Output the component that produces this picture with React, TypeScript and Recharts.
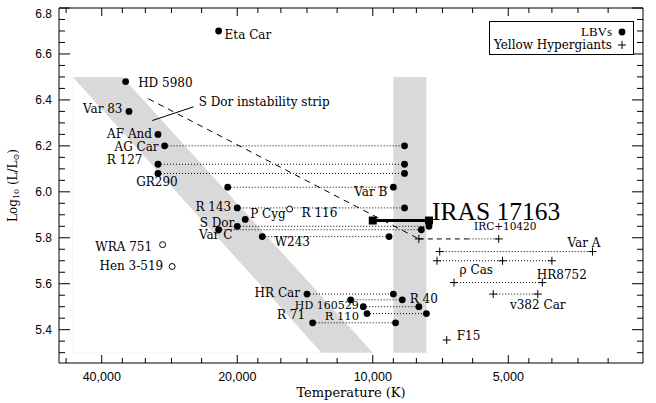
import React from 'react';
import { ComposedChart, XAxis, YAxis, Area, Line, Scatter } from 'recharts';

// LBVs: quiescent (hot) and eruption (cool) temperature at a given log L
const lbvNames = ['Eta Car', 'HD 5980', 'Var 83', 'AF And', 'AG Car', 'R 127', 'GR290', 'Var B', 'R 143', 'P Cyg', 'S Dor', 'Var C', 'W243', 'HR Car', 'R 40', 'HD 160529', 'R 110', 'R 71'];
const lbvLogL = [6.7, 6.48, 6.35, 6.25, 6.2, 6.12, 6.08, 6.02, 5.93, 5.88, 5.85, 5.835, 5.805, 5.555, 5.53, 5.5, 5.47, 5.43];
const lbvHotT = [22000, 35400, 34800, 30000, 29000, 30000, 30000, 21000, 20000, 19200, 20000, 22000, 17600, 14000, 11200, 10500, 10300, 13600];
const lbvCoolT: (number | null)[] = [null, null, null, null, 8500, 8500, 8500, 9000, 8500, null, 7500, 7800, 9200, 9000, 8600, 7900, 7600, 8900];

// candidate LBVs (open circles)
const candNames = ['R 116', 'WRA 751', 'Hen 3-519'];
const candLogL = [5.925, 5.77, 5.675];
const candT = [15300, 29300, 27900];

// yellow hypergiants
const yhgNames = ['IRC+10420', 'Var A', 'ρ Cas', 'HR8752', 'v382 Car', 'F15'];
const yhgLogL = [5.795, 5.74, 5.7, 5.605, 5.555, 5.355];
const yhgT = [[7900, 5250], [7100, 3250], [7200, 5150, 4000], [6600, 4200], [5400, 4300], [6850]];
const ircBreakT = 6100; // IRC+10420: dashed down to here, dotted after

// IRAS 17163
const irasName = 'IRAS 17163';
const irasT = [10000, 7500];
const irasLogL = 5.875;

// dashed track and the pointer to the strip
const trackT = [31500, 7900];
const trackLogL = [6.405, 5.795];
const noteText = 'S Dor instability strip';
const noteT = [30900, 25000];
const noteLogL = [6.31, 6.37];

// shaded regions
const stripCornerT = [46400, 36000, 13000, 10000]; // top-left, top-right, bottom-left, bottom-right
const stripLogL = [6.5, 5.3];
const bandT = [9000, 7600];

// axes
const xDomain = [2510, 49776];
const yDomain = [5.255, 6.8];
const xMajor = [40000, 20000, 10000, 5000];
const xMinor = [48000, 36000, 32000, 28000, 24000, 18000, 16000, 14000, 12000, 9000, 8000, 7000, 6000, 4500, 4000, 3500, 3000];
const yMajor = [5.4, 5.6, 5.8, 6.0, 6.2, 6.4, 6.6, 6.8];
const yMinor = [5.3, 5.35, 5.45, 5.5, 5.55, 5.65, 5.7, 5.75, 5.85, 5.9, 5.95, 6.05, 6.1, 6.15, 6.25, 6.3, 6.35, 6.45, 6.5, 6.55, 6.65, 6.7, 6.75];

const serif = '"DejaVu Serif", serif';
const times = '"Liberation Serif", "Times New Roman", serif';
const sans = '"Liberation Sans", Arial, sans-serif';
const gray = '#d9d9d9';

type LabelStyle = { dx: number; dy: number; anchor: 'start' | 'middle' | 'end'; size?: number; font?: string };
const labelStyle: Record<string, LabelStyle> = {
  'Eta Car': { dx: 6, dy: 4, anchor: 'start' },
  'HD 5980': { dx: 12.5, dy: 1.5, anchor: 'start' },
  'Var 83': { dx: -6.5, dy: -2.5, anchor: 'end' },
  'AF And': { dx: -6, dy: -0.5, anchor: 'end' },
  'AG Car': { dx: -6, dy: 1, anchor: 'end' },
  'R 127': { dx: -15.5, dy: -4.5, anchor: 'end' },
  GR290: { dx: -1, dy: 9, anchor: 'middle' },
  'Var B': { dx: -6, dy: 5, anchor: 'end' },
  'R 143': { dx: -6, dy: -1, anchor: 'end' },
  'P Cyg': { dx: 5, dy: -5, anchor: 'start' },
  'S Dor': { dx: -3, dy: -3.5, anchor: 'end' },
  'Var C': { dx: -3, dy: 5.5, anchor: 'middle' },
  W243: { dx: 12.5, dy: 5.5, anchor: 'start' },
  'HR Car': { dx: -7, dy: -1.5, anchor: 'end' },
  'R 40': { dx: 7.5, dy: -1, anchor: 'start' },
  'HD 160529': { dx: -4.5, dy: -1.5, anchor: 'end', size: 11 },
  'R 110': { dx: -8, dy: 2.5, anchor: 'end', size: 11.5 },
  'R 71': { dx: -7.5, dy: -7.5, anchor: 'end' },
  'R 116': { dx: 12, dy: 3.5, anchor: 'start' },
  'WRA 751': { dx: -10.5, dy: 2.5, anchor: 'end' },
  'Hen 3-519': { dx: -9, dy: 0, anchor: 'end' },
  'IRC+10420': { dx: 6.5, dy: -12.5, anchor: 'middle', size: 10.5 },
  'Var A': { dx: 8, dy: -9, anchor: 'end' },
  'ρ Cas': { dx: -9.5, dy: 9, anchor: 'end' },
  HR8752: { dx: -5.5, dy: -7.5, anchor: 'start' },
  'v382 Car': { dx: 0, dy: 11, anchor: 'middle' },
  F15: { dx: 10, dy: -4, anchor: 'start' },
  'IRAS 17163': { dx: 3, dy: -9.5, anchor: 'start', size: 25.5, font: times },
  'S Dor instability strip': { dx: 5, dy: -4.5, anchor: 'start' },
};

// shaded S Dor strip (gray area with a white notch) and the vertical band
const shadeRows = [
  { T: stripCornerT[0], strip: stripLogL[0], notch: stripLogL[0] },
  { T: stripCornerT[1], strip: stripLogL[0] },
  { T: stripCornerT[2], notch: stripLogL[1] },
  { T: stripCornerT[3], strip: stripLogL[1] },
  { T: bandT[0], band: stripLogL[0] },
  { T: bandT[1], band: stripLogL[0] },
];

const lbvHot = lbvNames.map((name, i) => ({ name, T: lbvHotT[i], L: lbvLogL[i] }));
const lbvCool = lbvNames
  .map((name, i) => ({ name, T: lbvCoolT[i], L: lbvLogL[i] }))
  .filter((d) => d.T != null);
const cands = candNames.map((name, i) => ({ name, T: candT[i], L: candLogL[i] }));
const yhgPoints = yhgNames.flatMap((name, i) => yhgT[i].map((T) => ({ name, T, L: yhgLogL[i] })));
const irasPoints = irasT.map((T) => ({ T, L: irasLogL }));

const labelAnchors = [
  ...lbvNames.map((name, i) => ({
    name,
    T: name === 'Var B' || name === 'R 40' ? (lbvCoolT[i] as number) : lbvHotT[i],
    L: lbvLogL[i],
  })),
  ...cands,
  ...yhgNames.map((name, i) => ({
    name,
    T: name === 'ρ Cas' ? yhgT[i][1] : yhgT[i][yhgT[i].length - 1],
    L: yhgLogL[i],
  })),
  { name: irasName, T: irasT[1], L: irasLogL },
  { name: noteText, T: noteT[1], L: noteLogL[1] },
];

const ax = { xAxisId: 'bottom', yAxisId: 'left' };
const axisStroke = { stroke: '#000', strokeWidth: 1 };

type TickProps = { x: number; y: number; payload: { value: number } };

const fmtT = (v: number) => v.toLocaleString('en-US');

function BottomTick({ x, y, payload }: TickProps) {
  const major = xMajor.includes(payload.value);
  return (
    <g>
      <line x1={x} x2={x} y1={y} y2={y - (major ? 8 : 5)} stroke="#000" />
      {major && (
        <text x={x} y={y + 18} textAnchor="middle" fontSize={12.5} fontFamily={sans} fill="#000">
          {fmtT(payload.value)}
        </text>
      )}
    </g>
  );
}

function TopTick({ x, y, payload }: TickProps) {
  const major = xMajor.includes(payload.value);
  return <line x1={x} x2={x} y1={y} y2={y + (major ? 8 : 5)} stroke="#000" />;
}

function LeftTick({ x, y, payload }: TickProps) {
  const major = yMajor.includes(payload.value);
  return (
    <g>
      <line x1={x} x2={x + (major ? 11 : 6)} y1={y} y2={y} stroke="#000" />
      {major && (
        <text
          x={x - 7}
          y={y + (payload.value === 6.8 ? 6 : 0)}
          textAnchor="end"
          dominantBaseline="central"
          fontSize={12}
          fontFamily={sans}
          fill="#000"
        >
          {payload.value.toFixed(1)}
        </text>
      )}
    </g>
  );
}

function RightTick({ x, y, payload }: TickProps) {
  const major = yMajor.includes(payload.value);
  return <line x1={x} x2={x - (major ? 11 : 6)} y1={y} y2={y} stroke="#000" />;
}

function XTitle(props: any) {
  const vb = props.viewBox ?? { x: 59, y: 363, width: 584 };
  return (
    <text x={vb.x + vb.width / 2} y={vb.y + 34} textAnchor="middle" fontSize={13} fontFamily={serif} fill="#000">
      Temperature (K)
    </text>
  );
}

function YTitle(props: any) {
  const vb = props.viewBox ?? { y: 8, height: 355 };
  const cx = 13;
  const cy = vb.y + vb.height / 2;
  return (
    <text
      transform={`rotate(-90 ${cx} ${cy})`}
      x={cx}
      y={cy}
      textAnchor="middle"
      dominantBaseline="central"
      fontSize={12}
      fontFamily={serif}
      fill="#000"
    >
      Log
      <tspan fontSize={8} dy={3}>10</tspan>
      <tspan dy={-3}> (L/L</tspan>
      <tspan fontSize={8} dy={3}>⊙</tspan>
      <tspan dy={-3}>)</tspan>
    </text>
  );
}

const Dot = ({ cx, cy }: any) => <circle cx={cx} cy={cy} r={3.4} fill="#000" />;
const OpenDot = ({ cx, cy }: any) => <circle cx={cx} cy={cy} r={3} fill="#fff" stroke="#000" strokeWidth={1} />;
const Plus = ({ cx, cy }: any) => (
  <path d={`M${cx - 4},${cy}H${cx + 4}M${cx},${cy - 4}V${cy + 4}`} stroke="#000" strokeWidth={1} />
);
const Square = ({ cx, cy }: any) => <rect x={cx - 4} y={cy - 4} width={8} height={8} fill="#000" />;

function StarLabel({ cx, cy, payload }: any) {
  const s = labelStyle[payload.name];
  if (!s) return null;
  return (
    <text
      x={cx + s.dx}
      y={cy + s.dy}
      textAnchor={s.anchor}
      dominantBaseline="central"
      fontSize={s.size ?? 12}
      fontFamily={s.font ?? serif}
      fill="#000"
    >
      {payload.name}
    </text>
  );
}

function LegendBox() {
  const row = { position: 'absolute' as const, right: 6, height: 12, display: 'flex', alignItems: 'center', gap: 5 };
  return (
    <div
      style={{
        position: 'absolute',
        left: 489,
        top: 21,
        width: 145,
        height: 34,
        border: '1px solid #000',
        boxSizing: 'border-box',
        background: '#fff',
      }}
    >
      <div style={{ ...row, top: 4 }}>
        <span style={{ fontFamily: times, fontSize: 13, lineHeight: '12px' }}>LBVs</span>
        <svg width={10} height={10}>
          <circle cx={5} cy={5} r={3.4} fill="#000" />
        </svg>
      </div>
      <div style={{ ...row, top: 17 }}>
        <span style={{ fontFamily: serif, fontSize: 12, lineHeight: '12px' }}>Yellow Hypergiants</span>
        <svg width={10} height={10}>
          <path d="M1,5H9M5,1V9" stroke="#000" />
        </svg>
      </div>
    </div>
  );
}

export default function App() {
  return (
    <div style={{ position: 'absolute', left: 0, top: 0, width: 656, height: 403, background: '#fff' }}>
      <ComposedChart width={656} height={403} data={shadeRows} margin={{ top: 7, right: 12, bottom: 10, left: 9 }}>
        <XAxis
          xAxisId="bottom"
          dataKey="T"
          type="number"
          scale="log"
          domain={xDomain}
          reversed
          allowDataOverflow
          ticks={[...xMajor, ...xMinor]}
          interval={0}
          tickSize={0}
          tickMargin={0}
          tickLine={false}
          tick={BottomTick}
          axisLine={axisStroke}
          height={30}
          label={{ content: XTitle }}
        />
        <XAxis
          xAxisId="top"
          orientation="top"
          dataKey="T"
          type="number"
          scale="log"
          domain={xDomain}
          reversed
          allowDataOverflow
          ticks={[...xMajor, ...xMinor]}
          interval={0}
          tickSize={0}
          tickMargin={0}
          tickLine={false}
          tick={TopTick}
          axisLine={axisStroke}
          height={1}
        />
        <YAxis
          yAxisId="left"
          dataKey="L"
          type="number"
          domain={yDomain}
          allowDataOverflow
          ticks={[...yMajor, ...yMinor]}
          interval={0}
          tickSize={0}
          tickMargin={0}
          tickLine={false}
          tick={LeftTick}
          axisLine={axisStroke}
          width={50}
          label={{ content: YTitle }}
        />
        <YAxis
          yAxisId="right"
          orientation="right"
          dataKey="L"
          type="number"
          domain={yDomain}
          allowDataOverflow
          ticks={[...yMajor, ...yMinor]}
          interval={0}
          tickSize={0}
          tickMargin={0}
          tickLine={false}
          tick={RightTick}
          axisLine={axisStroke}
          width={1}
        />

        {/* shaded strips */}
        <Area {...ax} dataKey="strip" baseValue={stripLogL[1]} connectNulls stroke="none" fill={gray} fillOpacity={1} isAnimationActive={false} />
        <Area {...ax} dataKey="notch" baseValue={stripLogL[1]} connectNulls stroke="none" fill="#fff" fillOpacity={1} isAnimationActive={false} />
        <Area {...ax} dataKey="band" baseValue={stripLogL[1]} connectNulls stroke="none" fill={gray} fillOpacity={1} isAnimationActive={false} />

        {/* LBV excursions */}
        {lbvCool.map((d) => {
          const i = lbvNames.indexOf(d.name);
          return (
            <Line
              key={d.name}
              {...ax}
              data={[{ T: lbvHotT[i], L: lbvLogL[i] }, { T: d.T, L: lbvLogL[i] }]}
              dataKey="L"
              stroke="#000"
              strokeWidth={1}
              strokeDasharray="1 2"
              dot={false}
              activeDot={false}
              isAnimationActive={false}
            />
          );
        })}

        {/* yellow hypergiant excursions */}
        {yhgNames.map((name, i) => {
          const temps = yhgT[i];
          if (temps.length < 2) return null;
          const hot = name === 'IRC+10420' ? ircBreakT : temps[0];
          return (
            <Line
              key={name}
              {...ax}
              data={[{ T: hot, L: yhgLogL[i] }, { T: temps[temps.length - 1], L: yhgLogL[i] }]}
              dataKey="L"
              stroke="#000"
              strokeWidth={1}
              strokeDasharray="1 2"
              dot={false}
              activeDot={false}
              isAnimationActive={false}
            />
          );
        })}
        <Line
          {...ax}
          data={[{ T: yhgT[0][0], L: yhgLogL[0] }, { T: ircBreakT, L: yhgLogL[0] }]}
          dataKey="L"
          stroke="#000"
          strokeWidth={1}
          strokeDasharray="5 4"
          dot={false}
          activeDot={false}
          isAnimationActive={false}
        />

        {/* evolutionary track */}
        <Line
          {...ax}
          data={trackT.map((T, i) => ({ T, L: trackLogL[i] }))}
          dataKey="L"
          stroke="#000"
          strokeWidth={1}
          strokeDasharray="6 5"
          dot={false}
          activeDot={false}
          isAnimationActive={false}
        />

        {/* pointer to strip label */}
        <Line
          {...ax}
          data={noteT.map((T, i) => ({ T, L: noteLogL[i] }))}
          dataKey="L"
          stroke="#000"
          strokeWidth={1}
          dot={false}
          activeDot={false}
          isAnimationActive={false}
        />

        {/* IRAS 17163 */}
        <Line
          {...ax}
          data={irasPoints}
          dataKey="L"
          stroke="#000"
          strokeWidth={3}
          dot={false}
          activeDot={false}
          isAnimationActive={false}
        />

        <Scatter {...ax} data={lbvHot} shape={Dot} isAnimationActive={false} />
        <Scatter {...ax} data={lbvCool} shape={Dot} isAnimationActive={false} />
        <Scatter {...ax} data={cands} shape={OpenDot} isAnimationActive={false} />
        <Scatter {...ax} data={yhgPoints} shape={Plus} isAnimationActive={false} />
        <Scatter {...ax} data={irasPoints} shape={Square} isAnimationActive={false} />
        <Scatter {...ax} data={labelAnchors} shape={StarLabel} isAnimationActive={false} />
      </ComposedChart>
      <LegendBox />
    </div>
  );
}
